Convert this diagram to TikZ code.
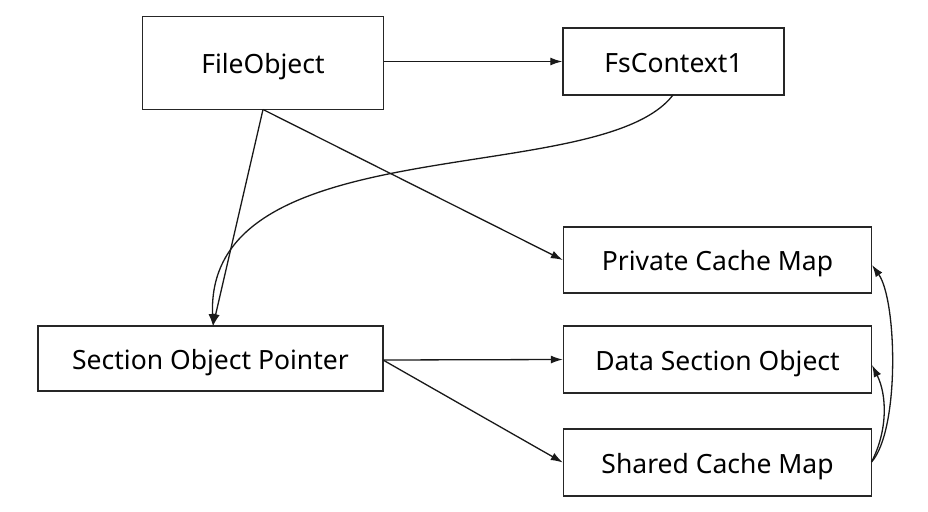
\documentclass[tikz,border=0pt]{standalone}
\usepackage{fontspec}
\setmainfont{Noto Sans}
\usetikzlibrary{arrows.meta}
\begin{document}
\begin{tikzpicture}[x=1pt,y=-1pt,
  box/.style={draw=black!85, line width=1.4pt, fill=white, inner sep=0pt,
    font=\fontsize{26.5}{30}\selectfont, text=black, text height=25pt, text depth=3.4pt},
  conn/.style={draw=black!90, line width=1.3pt, -{Latex[length=12pt,width=8pt]}}]
\useasboundingbox (0,0) rectangle (928,511);
\node[box, minimum width=241pt, minimum height=93pt] (fo) at (263,63) {FileObject};
\node[box, minimum width=221pt, minimum height=67pt] (fs) at (673.5,61.5) {FsContext1};
\node[box, minimum width=345pt, minimum height=65pt] (sop) at (210.5,358.5) {Section Object Pointer};
\node[box, minimum width=308pt, minimum height=66pt] (pcm) at (717.5,260) {Private Cache Map};
\node[box, minimum width=308pt, minimum height=67pt] (dso) at (717.5,359.5) {Data Section Object};
\node[box, minimum width=308pt, minimum height=67pt] (scm) at (717.5,462.5) {Shared Cache Map};
\coordinate (fob) at (263,109.5);
\coordinate (sopt) at (213,326);
\coordinate (fsb) at (673,95);
\coordinate (sopr) at (383,360);
\coordinate (scmr) at (871.5,462);
\draw[conn] (fo.east |- fs.west) -- (fs.west);
\draw[conn] (fob) -- (sopt);
\draw[conn] (fob) -- (pcm.west);
\draw[conn] (fsb) .. controls (600,190) and (205,125) .. (sopt);
\draw[conn] (sopr) -- (dso.west);
\draw[conn] (sopr) -- (scm.west);
\draw[conn] (scmr) .. controls (900,430) and (897,300) .. (872,265);
\draw[conn] (scmr) .. controls (888,430) and (887,395) .. (872,365);
\end{tikzpicture}
\end{document}
